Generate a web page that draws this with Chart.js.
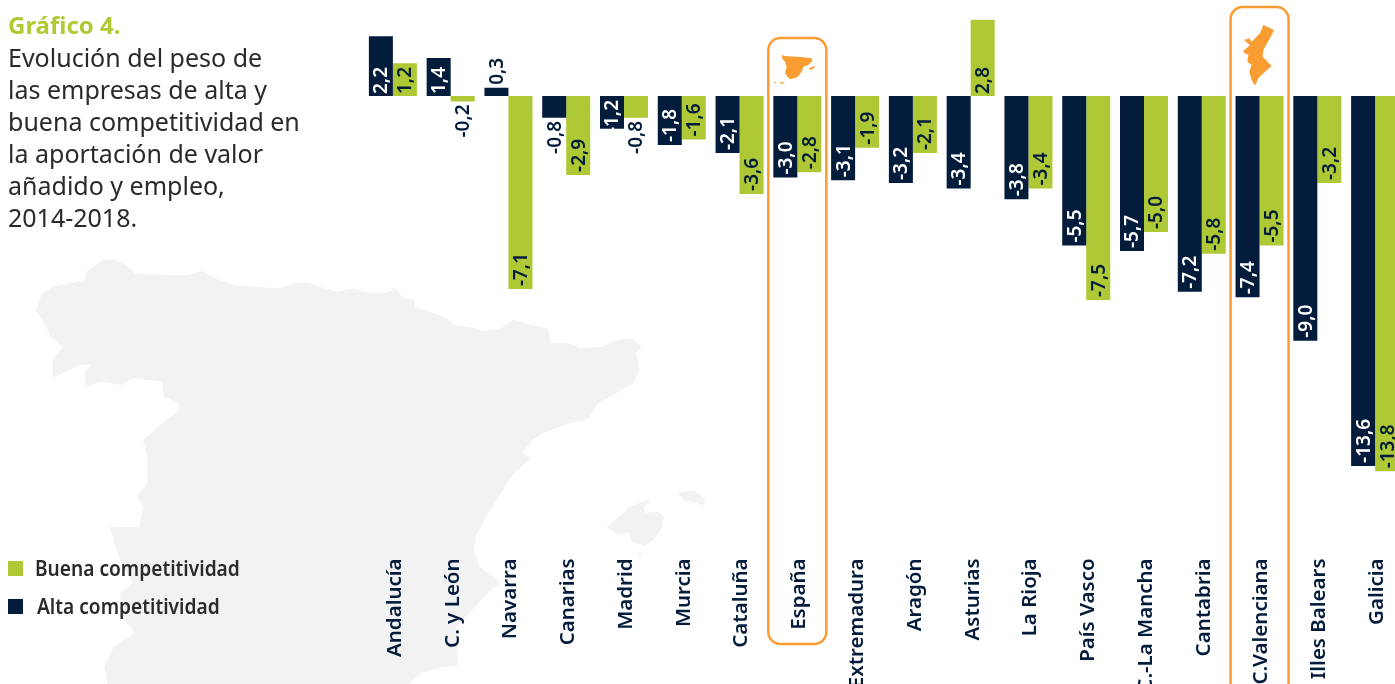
<!DOCTYPE html>
<html lang="es">
<head>
<meta charset="utf-8">
<title>Gráfico 4</title>
<script src="https://cdn.jsdelivr.net/npm/chart.js@4"></script>
<style>
  html, body { margin: 0; padding: 0; background: #fff; overflow: hidden; width: 1395px; height: 684px; }
  #mapa { position: absolute; left: 0; top: 0; }
  #grafico { position: absolute; left: 0; top: 0; }
  #titulo { position: absolute; left: 8px; top: 8px; width: 340px; font: 25px/32px "Noto Sans", sans-serif; color: #2b2a29; }
  #titulo b { color: #b0ca34; font-weight: 700; font-size: 24px; }
  .leyenda { position: absolute; font: 600 22px/24px "Noto Sans", sans-serif; color: #2b2a29; white-space: nowrap; transform-origin: left center; transform: scaleX(.87); }
  .cuadro { position: absolute; left: 8px; width: 15px; height: 15px; }
</style>
</head>
<body>
<!-- silueta de fondo -->
<svg id="mapa" width="1395" height="684">
  <g transform="translate(0,250) scale(.4209,.33333)" fill="#f2f2f2">
    <polygon points="85,180 100,130 125,110 165,100 200,90 205,65 245,30 270,28 300,45 320,70 400,75 445,75 480,62 510,85 560,105 620,112 665,115 700,100 730,97 760,110 800,125 840,115 880,130 915,130 940,115 955,140 985,150 985,172 1030,190 1060,205 1080,225 1130,235 1145,243 1190,235 1220,208 1260,225 1300,235 1310,280 1350,280 1380,295 1430,290 1465,270 1500,265 1525,290 1510,310 1520,360 1505,400 1470,425 1420,460 1400,505 1340,525 1290,550 1265,570 1240,610 1262,625 1235,655 1215,680 1185,740 1160,790 1130,860 1125,900 1140,950 1190,1000 1165,1020 1115,1090 1085,1130 1088,1245 1040,1255 1000,1270 970,1302 255,1302 248,1250 270,1190 320,1150 290,1100 285,1030 315,1000 285,930 265,850 260,832 330,830 340,770 325,740 350,700 350,620 340,570 380,525 425,480 425,460 390,440 385,395 315,385 290,405 240,395 205,410 200,370 215,345 190,345 125,385 125,330 150,290 120,260 110,230"/>
  </g>
  <g transform="translate(590,470) scale(.33333)" fill="#f2f2f2">
    <polygon points="50,172 105,125 115,110 175,90 180,98 160,110 165,128 205,125 222,140 215,175 190,210 165,228 125,215 115,185 85,195"/>
    <polygon points="265,70 310,60 325,70 345,92 340,107 310,95 280,92"/>
    <polygon points="145,250 155,248 150,258"/>
  </g>
  <g transform="translate(740,20) scale(.33333)" fill="#f99d33">
    <polygon points="125,105 135,108 190,112 215,115 217,122 205,135 190,140 185,155 172,172 150,178 143,170 135,160 140,140 135,125 128,118"/>
    <polygon points="207,145 225,137 222,145 212,150"/>
    <polygon points="102,185 110,187 106,191"/>
    <polygon points="118,188 135,185 125,193"/>
  </g>
  <g transform="translate(1210,0) scale(.33333)" fill="#f99d33">
    <polygon points="160,75 192,90 180,115 160,150 158,170 185,198 165,215 145,235 135,257 125,240 118,215 125,195 112,185 115,165 98,155 120,135 102,120 118,115 125,125 150,100"/>
  </g>
</svg>
<canvas id="grafico" width="1420" height="684"></canvas>
<div id="titulo"><b>Gráfico 4.</b><br>Evolución del peso de<br>las empresas de alta y<br>buena competitividad en<br>la aportación de valor<br>añadido y empleo,<br>2014-2018.</div>
<div class="cuadro" style="top:561px;background:#afc835"></div>
<div class="leyenda" style="left:35px;top:555px">Buena competitividad</div>
<div class="cuadro" style="top:599px;background:#031c3c"></div>
<div class="leyenda" style="left:37px;top:593px">Alta competitividad</div>

<script>
const categorias = ['Andalucía', 'C. y León', 'Navarra', 'Canarias', 'Madrid', 'Murcia', 'Cataluña', 'España',
  'Extremadura', 'Aragón', 'Asturias', 'La Rioja', 'País Vasco', 'C.-La Mancha', 'Cantabria', 'C.Valenciana',
  'Illes Balears', 'Galicia'];
const alta = [2.2, 1.4, 0.3, -0.8, -1.2, -1.8, -2.1, -3.0, -3.1, -3.2, -3.4, -3.8, -5.5, -5.7, -7.2, -7.4, -9.0, -13.6];
const buena = [1.2, -0.2, -7.1, -2.9, -0.8, -1.6, -3.6, -2.8, -1.9, -2.1, 2.8, -3.4, -7.5, -5.0, -5.8, -5.5, -3.2, -13.8];
const resaltadas = ['España', 'C.Valenciana'];

const AZUL = '#031c3c';
const VERDE = '#afc835';
const NARANJA = '#f99d33';
const FUENTE = '"Noto Sans", sans-serif';

// Etiquetas giradas dentro o fuera de cada barra
const etiquetas = {
  id: 'etiquetas',
  afterDatasetsDraw(chart) {
    const ctx = chart.ctx;
    const cero = chart.scales.y.getPixelForValue(0);
    chart.data.datasets.forEach((ds, i) => {
      chart.getDatasetMeta(i).data.forEach((barra, j) => {
        const v = ds.data[j];
        const texto = v.toFixed(1).replace('.', ',');
        const largo = Math.abs(barra.y - cero);
        ctx.save();
        ctx.font = '600 19px ' + FUENTE;
        ctx.textBaseline = 'middle';
        const ancho = ctx.measureText(texto).width;
        let y, alinear = 'left';
        if (largo < 30) {
          // barra corta: el texto va fuera
          y = v > 0 ? barra.y - 3 : barra.y + 3;
          alinear = v > 0 ? 'left' : 'right';
          ctx.fillStyle = AZUL;
        } else {
          y = v > 0 ? cero - 2 : Math.max(barra.y - 3, cero + 4 + ancho);
          ctx.fillStyle = i === 0 ? '#fff' : AZUL;
        }
        ctx.translate(barra.x, y);
        ctx.rotate(-Math.PI / 2);
        ctx.textAlign = alinear;
        ctx.fillText(texto, 0, 1);
        ctx.restore();
      });
    });
  },
};

// Recuadros naranjas de España y C. Valenciana
const recuadros = {
  id: 'recuadros',
  afterDraw(chart) {
    const ctx = chart.ctx;
    const x = chart.scales.x;
    const tramos = { 'España': [38, 644], 'C.Valenciana': [7, 720] };
    resaltadas.forEach((nombre) => {
      const cx = x.getPixelForValue(categorias.indexOf(nombre));
      const [arriba, abajo] = tramos[nombre];
      ctx.save();
      ctx.strokeStyle = NARANJA;
      ctx.lineWidth = 2.5;
      ctx.beginPath();
      ctx.roundRect(cx - 29, arriba, 58, abajo - arriba, 12);
      ctx.stroke();
      ctx.restore();
    });
  },
};

new Chart(document.getElementById('grafico'), {
  type: 'bar',
  data: {
    labels: categorias,
    datasets: [
      { label: 'Alta competitividad', data: alta, backgroundColor: AZUL },
      { label: 'Buena competitividad', data: buena, backgroundColor: VERDE },
    ],
  },
  options: {
    responsive: false,
    animation: false,
    layout: { padding: { left: 364, right: 16, top: 0.8, bottom: 0 } },
    datasets: { bar: { categoryPercentage: 0.831, barPercentage: 1 } },
    plugins: { legend: { display: false }, tooltip: { enabled: false } },
    scales: {
      x: {
        grid: { display: false, drawTicks: false },
        border: { display: false },
        afterFit: (eje) => { eje.height = 125.6; },
        ticks: {
          autoSkip: false,
          minRotation: 90,
          maxRotation: 90,
          padding: 0,
          labelOffset: 2,
          color: AZUL,
          font: { family: FUENTE, size: 20.5, weight: '600' },
        },
      },
      y: { display: false, min: -17, max: 3.5 },
    },
  },
  plugins: [etiquetas, recuadros],
});
</script>
</body>
</html>
